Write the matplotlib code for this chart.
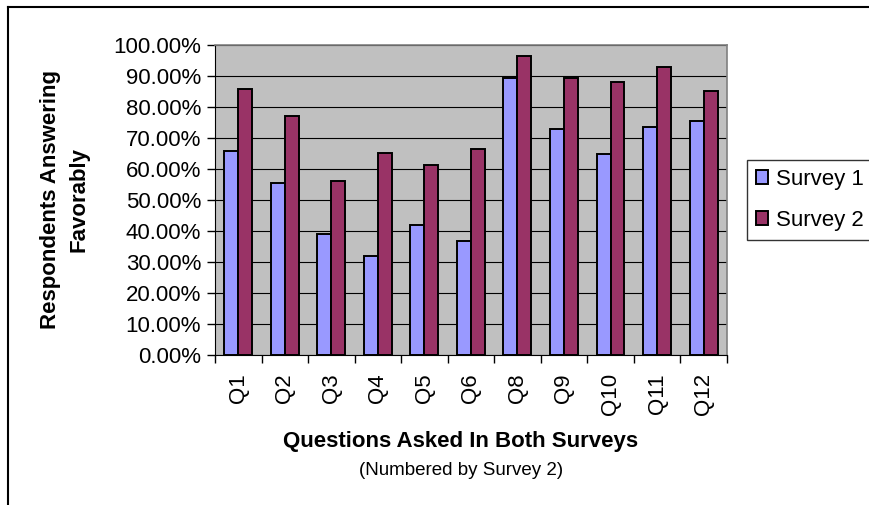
#!/usr/bin/env python3
import matplotlib
matplotlib.use('Agg')
import matplotlib.pyplot as plt
import numpy as np
from matplotlib.lines import Line2D
from matplotlib.ticker import FuncFormatter, MultipleLocator

plt.rcParams['font.family'] = ['Liberation Sans', 'DejaVu Sans']

QUESTIONS = ['Q1', 'Q2', 'Q3', 'Q4', 'Q5', 'Q6', 'Q8', 'Q9', 'Q10', 'Q11', 'Q12']
SURVEY_1 = [65.9, 55.4, 39.1, 31.9, 41.9, 36.8, 89.4, 73.0, 64.7, 73.5, 75.5]
SURVEY_2 = [85.8, 77.1, 56.0, 65.3, 61.3, 66.6, 96.3, 89.4, 88.2, 92.9, 85.2]
SERIES = ['Survey 1', 'Survey 2']

BLUE = '#9999FF'
PLUM = '#993366'
WIDTH = 0.3


def main():
    fig = plt.figure(figsize=(8.69, 5.05), dpi=100)
    ax = fig.add_axes([0.2474, 0.297, 0.589, 0.614])

    x = np.arange(len(QUESTIONS))
    ax.bar(x - WIDTH / 2, SURVEY_1, WIDTH, color=BLUE, edgecolor='black',
           linewidth=1.4, label=SERIES[0], zorder=3)
    ax.bar(x + WIDTH / 2, SURVEY_2, WIDTH, color=PLUM, edgecolor='black',
           linewidth=1.4, label=SERIES[1], zorder=3)

    ax.set_facecolor('#C0C0C0')
    ax.set_xlim(-0.5, len(QUESTIONS) - 0.5)
    ax.set_ylim(0, 100)
    ax.yaxis.set_major_locator(MultipleLocator(10))
    ax.yaxis.set_major_formatter(FuncFormatter(lambda v, _: '{:.2f}%'.format(v)))
    ax.grid(axis='y', color='black', linewidth=0.8, zorder=1)
    ax.set_axisbelow(True)

    ax.set_xticks(x)
    ax.set_xticklabels(QUESTIONS, rotation=90, fontsize=16)
    ax.tick_params(axis='x', length=0, pad=13)
    ax.set_xticks(np.arange(len(QUESTIONS) + 1) - 0.5, minor=True)
    ax.tick_params(axis='x', which='minor', length=6, width=1, direction='out')
    ax.tick_params(axis='y', labelsize=16, length=6, width=1, direction='out', pad=4)

    for side in ('top', 'right'):
        ax.spines[side].set_color('#808080')
        ax.spines[side].set_linewidth(1.2)
    ax.spines['left'].set_color('black')
    ax.spines['bottom'].set_color('black')

    fig.text(0.5305, 0.125, 'Questions Asked In Both Surveys', ha='center',
             va='center', fontsize=16, fontweight='bold')
    fig.text(0.5305, 0.069, '(Numbered by Survey 2)', ha='center',
             va='center', fontsize=13.5)
    fig.text(0.058, 0.604, 'Respondents Answering', rotation=90, ha='center',
             va='center', fontsize=16, fontweight='bold')
    fig.text(0.091, 0.604, 'Favorably', rotation=90, ha='center',
             va='center', fontsize=16, fontweight='bold')

    leg = ax.legend(loc='center left', bbox_to_anchor=(1.039, 0.5), fontsize=16,
                    frameon=True, fancybox=False, edgecolor='black',
                    handlelength=0.55, handleheight=0.55, handletextpad=0.35,
                    borderpad=0.4, labelspacing=0.9, borderaxespad=0)
    leg.get_frame().set_linewidth(1)

    # outer chart border, open on the right and bottom
    fig.add_artist(Line2D([8 / 869, 8 / 869], [0, 1 - 7 / 505], color='black',
                          linewidth=1.5, transform=fig.transFigure))
    fig.add_artist(Line2D([8 / 869, 1], [1 - 7 / 505, 1 - 7 / 505], color='black',
                          linewidth=1.5, transform=fig.transFigure))

    fig.savefig('out.png', dpi=100)


if __name__ == '__main__':
    main()
